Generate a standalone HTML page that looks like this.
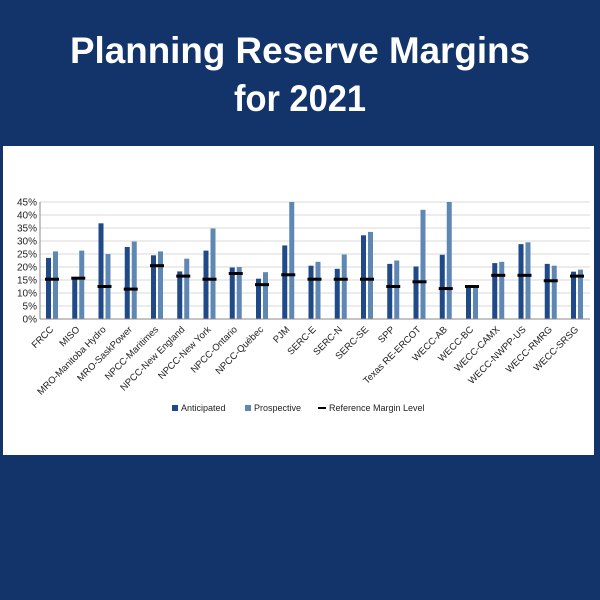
<!DOCTYPE html>
<html><head><meta charset="utf-8"><style>
html,body{margin:0;padding:0;background:#13346b;}
svg{display:block}
</style></head><body>
<svg width="600" height="600" xmlns="http://www.w3.org/2000/svg" font-family="'Liberation Sans', sans-serif">
<rect width="600" height="600" fill="#13346b"/>
<text x="300" y="63" fill="#fff" font-size="37" font-weight="bold" text-anchor="middle" textLength="460" lengthAdjust="spacingAndGlyphs">Planning Reserve Margins</text>
<text x="300" y="111" fill="#fff" font-size="37" font-weight="bold" text-anchor="middle" textLength="132" lengthAdjust="spacingAndGlyphs">for 2021</text>
<rect x="3" y="146" width="591" height="309" fill="#fff"/>
<g id="grid" stroke="#d9d9d9" stroke-width="1"></g>
<g id="chart"></g>
<g font-size="9" fill="#222">
<rect x="172" y="405" width="6" height="6" fill="#1f4a87"/>
<text x="181" y="411">Anticipated</text>
<rect x="245" y="405" width="6" height="6" fill="#5f87b4"/>
<text x="254" y="411">Prospective</text>
<rect x="318" y="407" width="8" height="2" fill="#000"/>
<text x="329" y="411">Reference Margin Level</text>
</g>
<script>
(function(){
var NS="http://www.w3.org/2000/svg";
var g=document.getElementById('chart'),gr=document.getElementById('grid');
function el(t,a,p,txt){var e=document.createElementNS(NS,t);for(var k in a)e.setAttribute(k,a[k]);if(txt)e.textContent=txt;(p||g).appendChild(e);return e;}
var y0=319,k=2.6,x0=40,x1=590;
for(var i=0;i<=9;i++){var y=y0-i*5*k;
 if(i>0)el('line',{x1:x0,x2:x1,y1:y,y2:y},gr);
 el('text',{x:37,y:y+3.5,'font-size':10,fill:'#222','text-anchor':'end'},g,(i*5)+'%');}
el('line',{x1:x0,x2:x0,y1:y0-45*k,y2:y0,stroke:'#888'});
var d=[["FRCC",23.5,26,15.3],["MISO",15.5,26.3,15.7],["MRO-Manitoba Hydro",36.8,25,12.5],["MRO-SaskPower",27.7,29.8,11.5],["NPCC-Maritimes",24.5,26,20.5],["NPCC-New England",18.3,23.2,16.5],["NPCC-New York",26.3,34.8,15.3],["NPCC-Ontario",19.8,20,17.5],["NPCC-Québec",15.5,18,13.2],["PJM",28.3,45,17],["SERC-E",20.5,22,15.3],["SERC-N",19.3,24.8,15.3],["SERC-SE",32.2,33.5,15.3],["SPP",21.2,22.5,12.5],["Texas RE-ERCOT",20.2,42,14.3],["WECC-AB",24.7,45,11.7],["WECC-BC",12.5,12.5,12.5],["WECC-CAMX",21.5,22,16.8],["WECC-NWPP-US",28.8,29.5,16.8],["WECC-RMRG",21.2,20.5,14.7],["WECC-SRSG",18.2,19,16.5]];
d.forEach(function(r,i){var c=52+i*26.25;
 el('rect',{x:c-6,y:y0-r[1]*k,width:5,height:r[1]*k,fill:'#1f4a87'});
 el('rect',{x:c+1,y:y0-r[2]*k,width:5,height:r[2]*k,fill:'#5f87b4'});
 el('rect',{x:c-7,y:y0-r[3]*k-1.5,width:14,height:3,fill:'#000'});
 el('text',{x:c+2,y:330,'font-size':9.5,fill:'#222','text-anchor':'end',transform:'rotate(-45 '+(c+2)+' 330)'},g,r[0]);
});
el('line',{x1:x0,x2:x1,y1:y0,y2:y0,stroke:'#888'});
})();
</script>
</svg>
</body></html>
